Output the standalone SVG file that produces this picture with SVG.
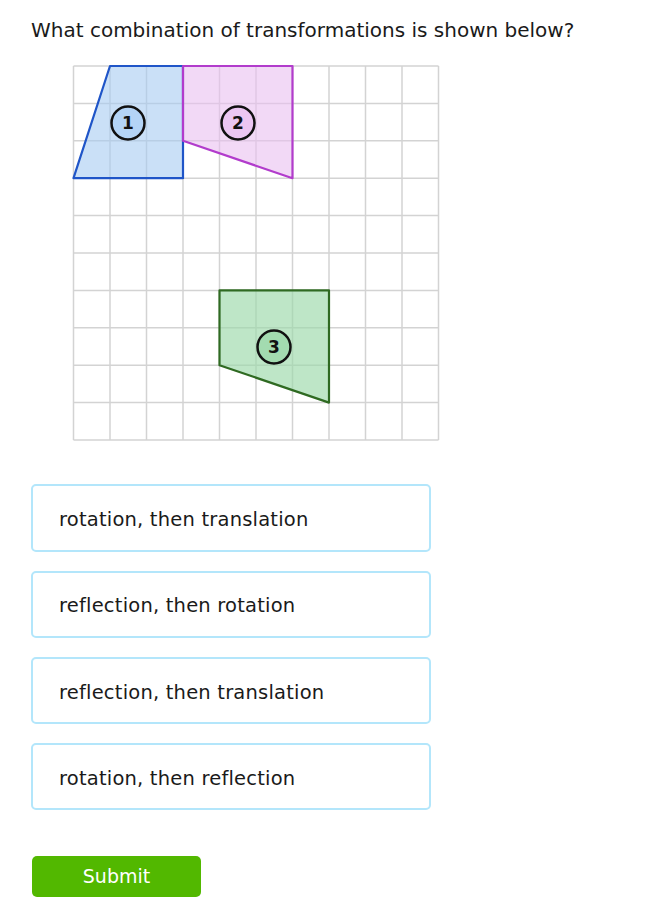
<svg xmlns="http://www.w3.org/2000/svg" width="653" height="907" viewBox="0 0 653 907">
<style>
text{font-family:"DejaVu Sans","Liberation Sans",sans-serif;fill:#1a1a1a}
.grid line{stroke:#d3d3d3;stroke-width:1.5}
.opt rect{fill:#fff;stroke:#b3e6fb;stroke-width:2}
.opt text{font-size:19.5px;letter-spacing:0.2px}
.lbl circle{stroke:#111;stroke-width:2.5}
.lbl text{font-size:17px;font-weight:bold;text-anchor:middle;fill:#111}
</style>
<rect width="653" height="907" fill="#fff"/>
<text x="31" y="37" style="font-size:20px">What combination of transformations is shown below?</text>
<g class="grid" id="grid">
<line x1="73.5" y1="66" x2="73.5" y2="440"/>
<line x1="110" y1="66" x2="110" y2="440"/>
<line x1="146.5" y1="66" x2="146.5" y2="440"/>
<line x1="183" y1="66" x2="183" y2="440"/>
<line x1="219.5" y1="66" x2="219.5" y2="440"/>
<line x1="256" y1="66" x2="256" y2="440"/>
<line x1="292.5" y1="66" x2="292.5" y2="440"/>
<line x1="329" y1="66" x2="329" y2="440"/>
<line x1="365.5" y1="66" x2="365.5" y2="440"/>
<line x1="402" y1="66" x2="402" y2="440"/>
<line x1="438.5" y1="66" x2="438.5" y2="440"/>
<line x1="73.5" y1="66" x2="438.5" y2="66"/>
<line x1="73.5" y1="103.4" x2="438.5" y2="103.4"/>
<line x1="73.5" y1="140.8" x2="438.5" y2="140.8"/>
<line x1="73.5" y1="178.2" x2="438.5" y2="178.2"/>
<line x1="73.5" y1="215.6" x2="438.5" y2="215.6"/>
<line x1="73.5" y1="253" x2="438.5" y2="253"/>
<line x1="73.5" y1="290.4" x2="438.5" y2="290.4"/>
<line x1="73.5" y1="327.8" x2="438.5" y2="327.8"/>
<line x1="73.5" y1="365.2" x2="438.5" y2="365.2"/>
<line x1="73.5" y1="402.6" x2="438.5" y2="402.6"/>
<line x1="73.5" y1="440" x2="438.5" y2="440"/>
</g>
<g id="shape1">
<polygon points="110,66 183,66 183,178.2 73.5,178.2" fill="#a7cbf2" fill-opacity="0.6" stroke="#1f55c8" stroke-width="2.2" stroke-linejoin="round"/>
</g>
<g id="shape2">
<polygon points="183,66 292.5,66 292.5,178.2 183,140.8" fill="#e9bff0" fill-opacity="0.6" stroke="#b23ccc" stroke-width="2.2" stroke-linejoin="round"/>
</g>
<g id="shape3">
<polygon points="219.5,290.4 329,290.4 329,402.6 219.5,365.2" fill="#9bd8a9" fill-opacity="0.65" stroke="#2f6a22" stroke-width="2.2" stroke-linejoin="round"/>
</g>
<g class="lbl" id="label1"><circle cx="128" cy="123" r="16.5" fill="#b4d4f6"/><text x="128" y="129">1</text></g>
<g class="lbl" id="label2"><circle cx="238" cy="123" r="16.5" fill="#ebc6f2"/><text x="238" y="129">2</text></g>
<g class="lbl" id="label3"><circle cx="274" cy="347" r="16.5" fill="#a3dbb0"/><text x="274" y="353">3</text></g>
<g class="opt" id="opt1"><rect x="32" y="485" width="398" height="66" rx="4"/><text x="59" y="526">rotation, then translation</text></g>
<g class="opt" id="opt2"><rect x="32" y="572" width="398" height="65" rx="4"/><text x="59" y="612">reflection, then rotation</text></g>
<g class="opt" id="opt3"><rect x="32" y="658" width="398" height="65" rx="4"/><text x="59" y="698.5">reflection, then translation</text></g>
<g class="opt" id="opt4"><rect x="32" y="744" width="398" height="65" rx="4"/><text x="59" y="785">rotation, then reflection</text></g>
<g id="submit"><rect x="32" y="856" width="169" height="41" rx="5" fill="#52b800"/><text x="116.5" y="883" style="font-size:19px;fill:#fff;text-anchor:middle">Submit</text></g>
</svg>
